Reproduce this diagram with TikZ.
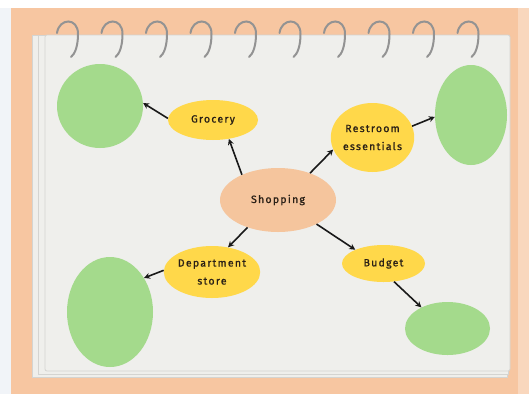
\documentclass[tikz,border=0pt]{standalone}
\usepackage{fontspec}
\newfontfamily\handfont[LetterSpace=12, FakeBold=1.2]{Fira Sans}
\usetikzlibrary{arrows.meta, positioning, shapes.geometric}
\definecolor{coverpeach}{HTML}{F7C6A1}
\definecolor{shoppeach}{HTML}{F5C59D}
\definecolor{pagegray}{HTML}{EFEFEC}
\definecolor{edgegray}{HTML}{D4D4D1}
\definecolor{ringgray}{HTML}{939393}
\definecolor{ideayellow}{HTML}{FFD84A}
\definecolor{leafgreen}{HTML}{A4DA8C}
\definecolor{inkbrown}{HTML}{2A2016}
\definecolor{sidewhite}{HTML}{F1F4F8}
\tikzset{%
	hub/.style={ellipse, inner sep=0mm, fill=shoppeach, text=inkbrown,%
		font=\handfont\fontsize{10.5}{18}\selectfont, align=center},
	idea/.style={hub, fill=ideayellow},
	blank/.style={ellipse, inner sep=0mm, fill=leafgreen},
	conn/.style={-{Stealth[length=6pt,width=6pt]}, line width=1.6pt, black!90},
	ring/.style={draw=ringgray, line width=2pt, line cap=round},
	sheet/.style={fill=pagegray, draw=edgegray, line width=0.8pt}
}

\begin{document}
\begin{tikzpicture}[x=1pt, y=-1pt]
	\useasboundingbox (0,0) rectangle (529,394);
	% cover and pages
	\fill[sidewhite] (0,0) rectangle (529,394);
	\fill[white] (0,0) rectangle (529,8);
	\fill[coverpeach] (11,8) rectangle (529,394);
	\fill[coverpeach!70!white] (518,8) rectangle (529,394);
	\draw[sheet] (32,35) rectangle (507,377);
	\draw[sheet] (38,35) rectangle (508,374);
	\draw[sheet, rounded corners=2pt] (45,35) rectangle (510,371);
	\foreach \i in {0,...,9} {
		\draw[ring] ({57+44.5*\i},33) .. controls ({59+44.5*\i},18) and ({78+44.5*\i},17) .. ({78+44.5*\i},34)
			.. controls ({78+44.5*\i},46) and ({75+44.5*\i},54) .. ({71+44.5*\i},57);
	}

	\node[hub, minimum width=116, minimum height=64] (shop) at (278,200) {Shopping};
	\node[idea, minimum width=90, minimum height=40] (groc) at (213,120) {Grocery};
	\node[idea, minimum width=71, minimum height=69] (rest) at (372.5,137.5) {Restroom\\essentials};
	\node[idea, minimum width=94, minimum height=52] (dept) at (212,272) {Department\\store};
	\node[idea, minimum width=83, minimum height=37] (budg) at (383.5,263.5) {Budget};

	\node[blank, minimum width=86, minimum height=84] (groc-g) at (100,106) {};
	\node[blank, minimum width=72, minimum height=100] (rest-g) at (471,115) {};
	\node[blank, minimum width=86, minimum height=110] (dept-g) at (110,312) {};
	\node[blank, minimum width=85, minimum height=53] (budg-g) at (447.5,328.5) {};

	\draw[conn] (shop.145) -- (groc.-50);
	\draw[conn] (groc.178) -- (groc-g.4);
	\draw[conn] (shop.40) -- (rest.197);
	\draw[conn] (rest.16) -- (rest-g.183);
	\draw[conn] (shop.222) -- (dept.57);
	\draw[conn] (dept.178) -- (dept-g.45);
	\draw[conn] (shop.-32) -- (budg.154);
	\draw[conn] (budg.-60) -- (budg-g.141);
\end{tikzpicture}
\end{document}
